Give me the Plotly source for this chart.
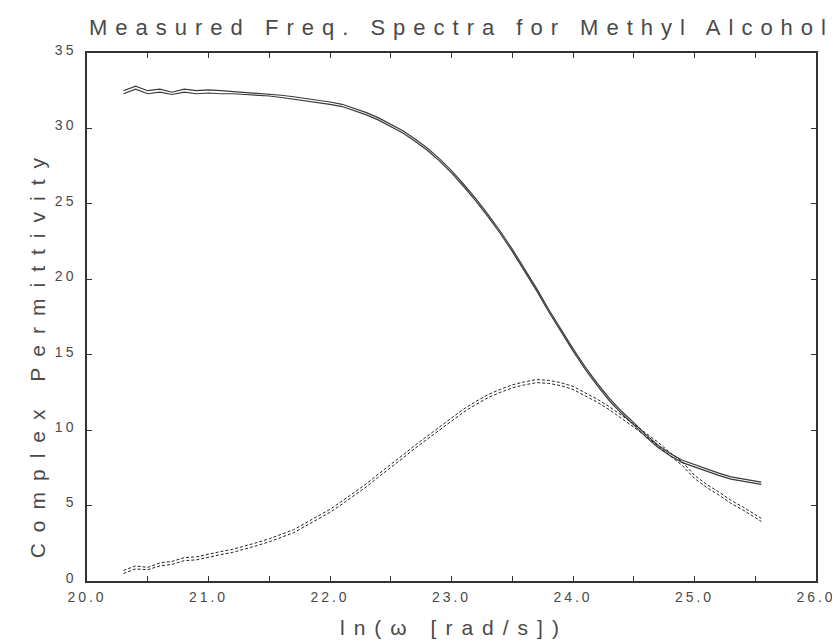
import plotly.graph_objects as go

# ---- data ----
x_vals = [20.3, 20.4, 20.5, 20.6, 20.7, 20.8, 20.9, 21.0, 21.1, 21.2,
          21.3, 21.4, 21.5, 21.6, 21.7, 21.8, 21.9, 22.0, 22.1, 22.2,
          22.3, 22.4, 22.5, 22.6, 22.7, 22.8, 22.9, 23.0, 23.1, 23.2,
          23.3, 23.4, 23.5, 23.6, 23.7, 23.8, 23.9, 24.0, 24.1, 24.2,
          24.3, 24.4, 24.5, 24.6, 24.7, 24.8, 24.9, 25.0, 25.1, 25.2,
          25.3, 25.4, 25.5, 25.55]

real_a = [32.5, 32.8, 32.5, 32.6, 32.4, 32.6, 32.5, 32.55, 32.5, 32.45,
          32.4, 32.35, 32.3, 32.2, 32.1, 32.0, 31.9, 31.75, 31.6, 31.35,
          31.05, 30.7, 30.3, 29.85, 29.3, 28.7, 28.0, 27.2, 26.3, 25.35,
          24.3, 23.2, 22.0, 20.7, 19.4, 18.0, 16.7, 15.4, 14.2, 13.1,
          12.1, 11.25, 10.5, 9.7, 9.0, 8.45, 8.0, 7.7, 7.4, 7.15,
          6.9, 6.75, 6.6, 6.55]

real_b = [32.3, 32.6, 32.3, 32.4, 32.25, 32.4, 32.3, 32.35, 32.3, 32.3,
          32.25, 32.2, 32.15, 32.05, 31.95, 31.85, 31.75, 31.6, 31.45, 31.2,
          30.9, 30.55, 30.15, 29.7, 29.15, 28.55, 27.85, 27.05, 26.15, 25.2,
          24.15, 23.05, 21.85, 20.55, 19.25, 17.85, 16.55, 15.25, 14.05, 12.95,
          11.95, 11.1, 10.35, 9.55, 8.85, 8.3, 7.85, 7.55, 7.25, 7.0,
          6.75, 6.6, 6.45, 6.4]

imag_a = [0.7, 1.0, 0.9, 1.2, 1.3, 1.55, 1.6, 1.8, 1.95, 2.1,
          2.3, 2.55, 2.8, 3.1, 3.4, 3.85, 4.3, 4.75, 5.3, 5.85,
          6.45, 7.1, 7.7, 8.35, 9.0, 9.6, 10.2, 10.8, 11.4, 11.9,
          12.35, 12.7, 13.0, 13.2, 13.35, 13.3, 13.15, 12.9, 12.5, 12.05,
          11.55, 11.0, 10.4, 9.8, 9.2, 8.5, 7.9, 7.0, 6.4, 5.9,
          5.35, 4.9, 4.4, 4.15]

imag_b = [0.5, 0.8, 0.75, 1.0, 1.1, 1.35, 1.4, 1.6, 1.75, 1.9,
          2.1, 2.35, 2.6, 2.9, 3.2, 3.65, 4.1, 4.55, 5.1, 5.65,
          6.25, 6.9, 7.5, 8.15, 8.8, 9.4, 10.0, 10.6, 11.2, 11.7,
          12.15, 12.5, 12.8, 13.0, 13.15, 13.1, 12.95, 12.7, 12.3, 11.85,
          11.35, 10.8, 10.2, 9.6, 8.95, 8.25, 7.65, 6.8, 6.2, 5.7,
          5.15, 4.7, 4.2, 3.95]

x_tick_vals = [20.0, 21.0, 22.0, 23.0, 24.0, 25.0, 26.0]
x_tick_text = ["20.0", "21.0", "22.0", "23.0", "24.0", "25.0", "26.0"]
y_tick_vals = [0, 5, 10, 15, 20, 25, 30, 35]
y_tick_text = ["0", "5", "10", "15", "20", "25", "30", "35"]

title_text = "Measured Freq. Spectra for Methyl Alcohol"
x_title = "ln(ω [rad/s])"
y_title = "Complex Permittivity"

FONT = "Liberation Sans"
TXT = "#4a4a4a"


def spaced(s, px):
    return '<span style="letter-spacing:%dpx">%s</span>' % (px, s)


fig = go.Figure()
fig.add_trace(go.Scatter(x=x_vals, y=real_a, mode="lines",
                         line=dict(color="#3a3a3a", width=1.2), showlegend=False))
fig.add_trace(go.Scatter(x=x_vals, y=real_b, mode="lines",
                         line=dict(color="#3a3a3a", width=1.2), showlegend=False))
fig.add_trace(go.Scatter(x=x_vals, y=imag_a, mode="lines",
                         line=dict(color="#222222", width=1, dash="3px,2px"), showlegend=False))
fig.add_trace(go.Scatter(x=x_vals, y=imag_b, mode="lines",
                         line=dict(color="#222222", width=1, dash="3px,2px"), showlegend=False))

fig.update_layout(
    width=840, height=643,
    margin=dict(l=79, r=25, t=45, b=70),
    paper_bgcolor="white", plot_bgcolor="white",
    font=dict(family=FONT, color=TXT),
)

fig.update_xaxes(
    range=[20, 26], showgrid=False, zeroline=False,
    showline=True, linecolor="#333333", linewidth=1.5, mirror="ticks",
    ticks="inside", ticklen=5, tickcolor="#333333", tickwidth=1,
    tickmode="array", tickvals=x_tick_vals,
    ticktext=[spaced(t, 3) for t in x_tick_text],
    tickfont=dict(size=14, family=FONT, color=TXT),
    ticklabelstandoff=2,
    minor=dict(dtick=0.5, ticks="inside", ticklen=5, tickcolor="#333333", tickwidth=1, tick0=20),
)
fig.update_yaxes(
    range=[0, 35], showgrid=False, zeroline=False,
    showline=True, linecolor="#333333", linewidth=1.5, mirror="ticks",
    ticks="inside", ticklen=5, tickcolor="#333333", tickwidth=1,
    tickmode="array", tickvals=y_tick_vals,
    ticktext=[spaced(t, 3) for t in y_tick_text],
    tickfont=dict(size=14, family=FONT, color=TXT),
    ticklabelstandoff=6,
    ticklabelshift=-3,
)

fig.add_annotation(text=spaced(title_text, 8), xref="paper", yref="paper",
                   x=0.5136, y=1.049, xanchor="center", yanchor="middle",
                   showarrow=False, font=dict(size=22, family=FONT, color=TXT))
fig.add_annotation(text=spaced(x_title, 9), xref="paper", yref="paper",
                   x=0.503, y=-0.089, xanchor="center", yanchor="middle",
                   showarrow=False, font=dict(size=21, family=FONT, color=TXT))
fig.add_annotation(text=spaced(y_title, 11), xref="paper", yref="paper",
                   x=-0.068, y=0.432, xanchor="center", yanchor="middle",
                   textangle=-90,
                   showarrow=False, font=dict(size=21, family=FONT, color=TXT))

fig.write_html("out.html")
